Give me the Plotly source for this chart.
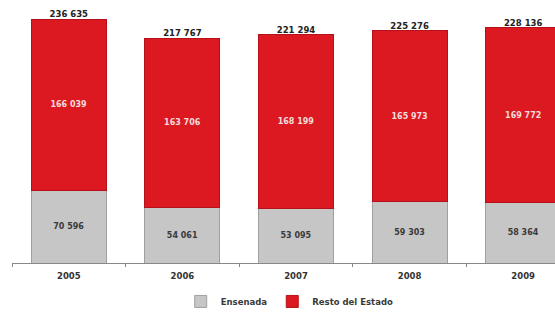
import plotly.graph_objects as go

years = ["2005", "2006", "2007", "2008", "2009"]
ensenada = [70596, 54061, 53095, 59303, 58364]
resto = [166039, 163706, 168199, 165973, 169772]
totals = [a + b for a, b in zip(ensenada, resto)]

def fmt(v):
    return f"{v:,}".replace(",", " ")

FONT = "DejaVu Sans, Arial, sans-serif"

fig = go.Figure()
fig.add_trace(go.Bar(
    x=years, y=ensenada, name="Ensenada",
    marker=dict(color="#c6c6c6", line=dict(color="#a0a0a0", width=1)),
    text=[fmt(v) for v in ensenada], textposition="inside", insidetextanchor="middle",
    textfont=dict(color="#3a3a3a", size=8, family=FONT, weight="bold"),
))
fig.add_trace(go.Bar(
    x=years, y=resto, name="Resto del Estado",
    marker=dict(color="#dc1820", line=dict(color="#b3121a", width=1)),
    text=[fmt(v) for v in resto], textposition="inside", insidetextanchor="middle",
    textfont=dict(color="#f4dcdc", size=8, family=FONT, weight="bold"),
))
fig.add_trace(go.Scatter(
    x=years, y=totals, mode="text", text=[fmt(v) for v in totals],
    textposition="top center", showlegend=False, hoverinfo="skip",
    textfont=dict(color="#222222", size=8.5, family=FONT, weight="bold"),
))

fig.update_layout(
    width=555, height=314,
    margin=dict(l=12, r=0, t=10, b=51),
    barmode="stack", bargap=0.34,
    paper_bgcolor="white", plot_bgcolor="white",
    font=dict(family=FONT, size=9, color="#333333"),
    showlegend=True,
    legend=dict(orientation="h", xref="container", yref="container",
                x=0.522, xanchor="center", y=0.04, yanchor="middle",
                font=dict(size=8.5, family=FONT, color="#3a3a3a", weight="bold"),
                itemwidth=30, traceorder="normal"),
    uniformtext=dict(mode="show", minsize=8),
)
fig.update_xaxes(
    type="category", range=[-0.5, 4.28],
    showline=True, linecolor="#888888", linewidth=1,
    ticks="outside", tickson="boundaries", ticklen=3, tickcolor="#888888",
    ticklabelstandoff=5,
    tickfont=dict(size=8.5, family=FONT, color="#333333", weight="bold"),
    showgrid=False,
)
fig.update_yaxes(range=[0, 245400], visible=False, showgrid=False)

fig.write_html("out.html", config={"displayModeBar": False},
               post_script="document.body.style.margin='0';")
